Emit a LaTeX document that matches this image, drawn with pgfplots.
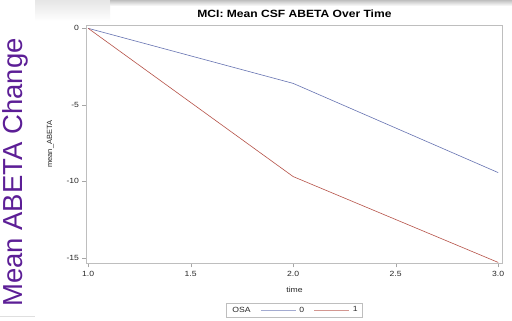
\documentclass[border=0pt]{standalone}
\usepackage{fontspec}
\setmainfont{Liberation Sans}[FakeStretch=1.15]
\newfontfamily\plainsans{Liberation Sans}
\usepackage{pgfplots}
\pgfplotsset{compat=1.18}
\definecolor{sasblue}{RGB}{102,115,178}
\definecolor{sasred}{RGB}{182,82,72}
\definecolor{slidepurple}{RGB}{92,30,150}
\definecolor{framegray}{RGB}{190,190,190}
\definecolor{textgray}{RGB}{40,40,40}
\begin{document}
\begin{tikzpicture}
\useasboundingbox (0pt,0pt) rectangle (512pt,321pt);
\fill[white] (0pt,0pt) rectangle (512pt,321pt);
\shade[top color=gray!20, bottom color=white] (35pt,300pt) rectangle (110pt,321pt);
\shade[top color=gray!50, bottom color=white] (110pt,315pt) rectangle (512pt,321pt);
\draw[gray!25] (0pt,5pt) -- (35pt,5pt);
\node[rotate=90, anchor=base, text=slidepurple, inner sep=0pt,
  font=\plainsans\fontsize{27.5}{28}\selectfont] at (22pt,148.5pt) {Mean ABETA Change};
\begin{axis}[
  at={(86.5pt,57.5pt)}, anchor=south west,
  scale only axis, width=416pt, height=238.5pt,
  xmin=0.992, xmax=3.021, ymin=-15.37, ymax=0.216,
  axis line style={framegray},
  tick style={gray!70}, major tick length=4pt,
  tick pos=left, tick align=outside,
  xtick={1,1.5,2,2.5,3}, ytick={0,-5,-10,-15},
  xticklabel style={/pgf/number format/fixed, /pgf/number format/fixed zerofill, /pgf/number format/precision=1},
  /pgf/number format/assume math mode=true,
  ticklabel style={font=\fontsize{7.5}{8}\selectfont, text=textgray},
  title={MCI: Mean CSF ABETA Over Time},
  title style={at={(axis description cs:0.5,1.021)}, anchor=center, font=\bfseries\fontsize{10.5}{11}\selectfont, text=black},
  xlabel={time},
  xlabel style={at={(axis description cs:0.5,-0.111)}, anchor=center, font=\fontsize{7.5}{8}\selectfont, text=textgray},
  ylabel={mean\_ABETA},
  ylabel style={at={(axis description cs:-0.087,0.5)}, anchor=center, font=\plainsans\fontsize{7.5}{8}\selectfont, text=textgray},
  legend style={at={(axis description cs:0.5,-0.166)}, anchor=north, draw=framegray,
    font=\fontsize{7.5}{8}\selectfont, text=textgray, inner xsep=3pt, inner ysep=1.5pt,
    /tikz/every even column/.append style={column sep=8pt},
    /tikz/every odd column/.append style={column sep=1pt},
    /tikz/column 2/.append style={column sep=12pt}},
  legend columns=-1,
  legend image code/.code={\draw[#1] (0pt,0pt) -- (35pt,0pt);},
]
\addlegendimage{empty legend}\addlegendentry{OSA}
\addlegendimage{sasblue!60!white, line width=0.7pt}\addlegendentry{0}
\addlegendimage{sasred!60!white, line width=0.7pt}\addlegendentry{1}
\addplot[sasblue, line width=0.6pt, forget plot] coordinates {(1,0) (2,-3.6) (3,-9.43)};
\addplot[sasred, line width=0.6pt, forget plot] coordinates {(1,0) (2,-9.69) (3,-15.3)};
\end{axis}
\end{tikzpicture}
\end{document}
